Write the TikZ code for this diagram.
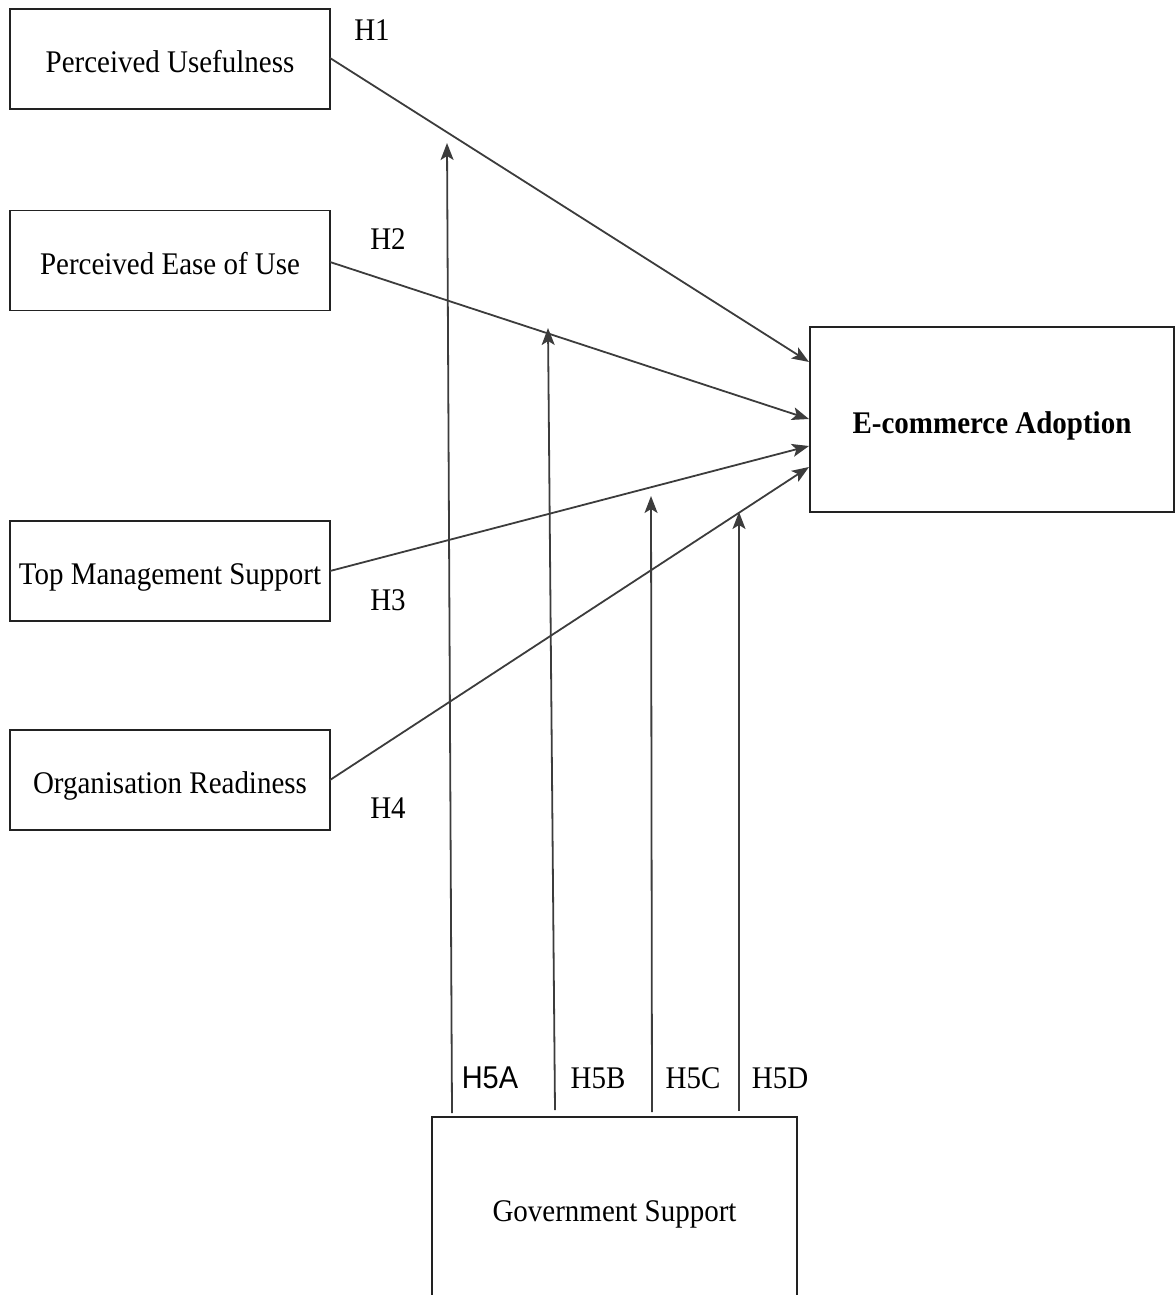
\documentclass[tikz,border=0pt]{standalone}
\usepackage{fontspec}
\setmainfont{Liberation Serif}[FakeStretch=0.92]
\newfontfamily\hsans{Liberation Sans}[FakeStretch=0.92]
\usetikzlibrary{arrows.meta}
\definecolor{linegray}{HTML}{3C3C3C}
\definecolor{boxline}{HTML}{222222}
\tikzset{
  varbox/.style={draw=boxline, line width=1.6pt, minimum width=320pt, minimum height=100pt, inner sep=0pt, text height=27pt, text depth=0pt, font=\fontsize{31.5}{38}\selectfont},
  link/.style={draw=linegray, line width=1.8pt, -{Stealth[length=17pt,width=13pt,inset=4pt]}},
  hlab/.style={font=\fontsize{31.5}{38}\selectfont, inner sep=0pt},
}
\begin{document}
\begin{tikzpicture}[x=1pt,y=-1pt]
\useasboundingbox (0,0) rectangle (1175,1295);
\clip (0,0) rectangle (1175,1295);
% boxes
\node[varbox] (pu) at (170,59) {Perceived Usefulness};
\node[varbox] (peou) at (170,260.5) {Perceived Ease of Use};
\node[varbox] (tms) at (170,571) {Top Management Support};
\node[varbox] (or) at (170,780) {Organisation Readiness};
\node[varbox, minimum width=364pt, minimum height=185pt, font=\bfseries\fontsize{31.5}{38}\selectfont] (eca) at (992,419.5) {E-commerce Adoption};
\node[varbox, minimum width=365pt, minimum height=182pt] (gs) at (614.5,1208) {Government Support};
% endpoints
\coordinate (e1) at (809,362);
\coordinate (e2) at (809,419);
\coordinate (e3) at (809,446);
\coordinate (e4) at (809,467);
\coordinate (s1) at (330,58);
\coordinate (s2) at (330,262);
\coordinate (s3) at (330,571);
\coordinate (s4) at (330,780);
\coordinate (va0) at (452,1113);
\coordinate (va1) at (447,143);
\coordinate (vb0) at (555,1110);
\coordinate (vb1) at (548,328);
\coordinate (vc0) at (652,1112);
\coordinate (vc1) at (651,496);
\coordinate (vd0) at (739,1111);
\coordinate (vd1) at (739,512);
% connectors
\draw[link] (s1) -- (e1);
\draw[link] (s2) -- (e2);
\draw[link] (s3) -- (e3);
\draw[link] (s4) -- (e4);
\draw[link] (va0) -- (va1);
\draw[link] (vb0) -- (vb1);
\draw[link] (vc0) -- (vc1);
\draw[link] (vd0) -- (vd1);
% labels
\node[hlab] (h1) at (372,30) {H1};
\node[hlab] (h2) at (388,239) {H2};
\node[hlab] (h3) at (388,600) {H3};
\node[hlab] (h4) at (388,808) {H4};
\node[hlab, font=\hsans\fontsize{31.5}{38}\selectfont] (h5a) at (490,1078) {H5A};
\node[hlab] (h5b) at (598,1078) {H5B};
\node[hlab] (h5c) at (693,1078) {H5C};
\node[hlab] (h5d) at (780,1078) {H5D};
\end{tikzpicture}
\end{document}
